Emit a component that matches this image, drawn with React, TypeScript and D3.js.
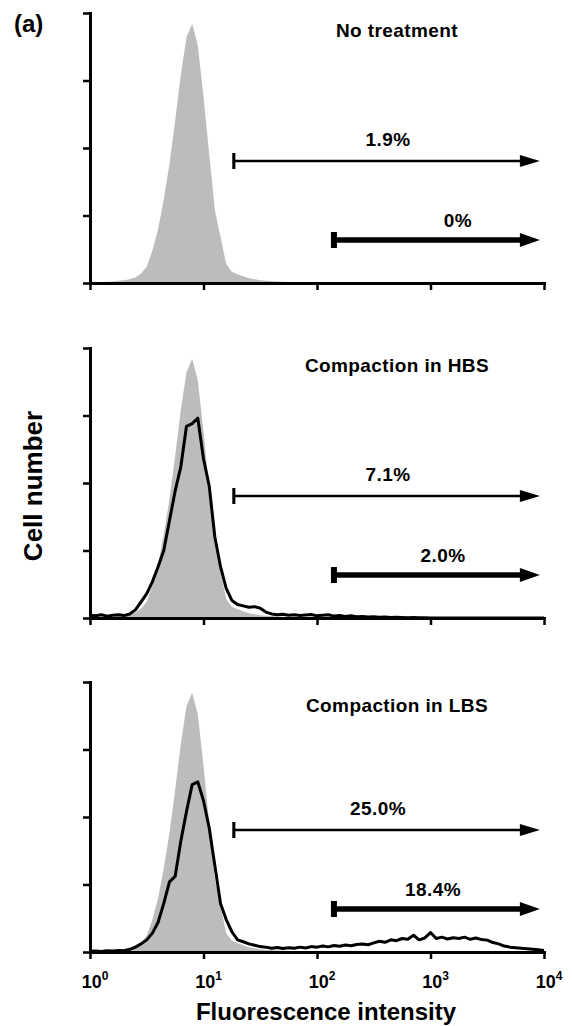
import * as d3 from 'd3';
import React, { useRef, useEffect } from 'react';

// channel positions, in decades of fluorescence (10^0 .. 10^4)
const logSteps = d3.range(0, 81).map((i) => i * 0.05);

// control histogram (grey fill), fraction of axis height
const control = [
  0.000, 0.003, 0.004, 0.005, 0.006, 0.008, 0.010, 0.014, 0.020, 0.035,
  0.060, 0.120, 0.200, 0.310, 0.440, 0.600, 0.770, 0.910, 0.960, 0.880,
  0.690, 0.480, 0.270, 0.170, 0.070, 0.042, 0.032, 0.025, 0.018, 0.014,
  0.010, 0.008, 0.007, 0.006, 0.005, 0.004, 0.004, 0.003, 0.003, 0.002,
  0.002, 0.002, 0.001, 0.002, 0.001, 0.001, 0.001, 0.001, 0.001, 0.001,
  0, 0, 0, 0, 0, 0, 0, 0, 0, 0,
  0, 0, 0, 0, 0, 0, 0, 0, 0, 0,
  0, 0, 0, 0, 0, 0, 0, 0, 0, 0,
  0,
];

// compaction in HBS (black outline)
const hbs = [
  0.010, 0.008, 0.012, 0.007, 0.010, 0.012, 0.009, 0.015, 0.030, 0.060,
  0.090, 0.135, 0.190, 0.250, 0.360, 0.470, 0.560, 0.710, 0.720, 0.740,
  0.590, 0.490, 0.300, 0.190, 0.110, 0.065, 0.050, 0.045, 0.040, 0.042,
  0.036, 0.022, 0.015, 0.012, 0.014, 0.010, 0.012, 0.009, 0.011, 0.013,
  0.008, 0.010, 0.012, 0.007, 0.009, 0.006, 0.008, 0.005, 0.006, 0.004,
  0.005, 0.003, 0.004, 0.002, 0.003, 0.002, 0.001, 0.002, 0.001, 0.001,
  0, 0, 0, 0, 0, 0, 0, 0, 0, 0,
  0, 0, 0, 0, 0, 0, 0, 0, 0, 0,
  0,
];

// compaction in LBS (black outline)
const lbs = [
  0.003, 0.004, 0.002, 0.005, 0.004, 0.006, 0.005, 0.010, 0.018, 0.030,
  0.045, 0.070, 0.110, 0.180, 0.260, 0.280, 0.410, 0.520, 0.620, 0.630,
  0.560, 0.460, 0.320, 0.180, 0.120, 0.075, 0.045, 0.038, 0.030, 0.025,
  0.020, 0.018, 0.014, 0.017, 0.013, 0.016, 0.014, 0.018, 0.015, 0.020,
  0.018, 0.022, 0.019, 0.024, 0.021, 0.026, 0.023, 0.028, 0.030, 0.027,
  0.034, 0.040, 0.036, 0.045, 0.042, 0.050, 0.047, 0.062, 0.045, 0.052,
  0.072, 0.050, 0.055, 0.048, 0.053, 0.050, 0.055, 0.047, 0.052, 0.046,
  0.044, 0.035, 0.030, 0.022, 0.018, 0.016, 0.014, 0.012, 0.010, 0.008,
  0.006,
];

const panelTitles = ['No treatment', 'Compaction in HBS', 'Compaction in LBS'];
const overlays = [null, hbs, lbs];
const lowGateLabels = ['1.9%', '7.1%', '25.0%'];
const highGateLabels = ['0%', '2.0%', '18.4%'];
const lowGate = [18.5, 9200];
const highGate = [141, 9200];
const xTicks = [1, 10, 100, 1000, 10000];
const xTickExp = ['0', '1', '2', '3', '4'];
const yTicks = [0, 0.25, 0.5, 0.75, 1];

// layout
const panelTops = [13, 348, 682];
const panelH = 270;
const titleDy = [24, 24, 30];
const lowLabelX = [388, 388, 378];
const highLabelX = [458, 443, 433];
const FONT = "'Liberation Sans', Arial, Helvetica, sans-serif";

const App = () => {
  const ref = useRef<SVGSVGElement>(null);

  useEffect(() => {
    const svg = d3.select(ref.current);
    svg.selectAll('*').remove();

    const x = d3.scaleLog().domain([1, 1e4]).range([90, 544]);

    const drawGate = (g: any, y0: number, gate: number[], w: number, headLen: number, headHalf: number) => {
      const xs = x(gate[0]);
      const xe = x(gate[1]);
      g.append('line')
        .attr('x1', xs).attr('x2', xe - headLen + 2)
        .attr('y1', y0).attr('y2', y0)
        .attr('stroke', '#000').attr('stroke-width', w);
      g.append('line')
        .attr('x1', xs).attr('x2', xs)
        .attr('y1', y0 - 8).attr('y2', y0 + 8)
        .attr('stroke', '#000').attr('stroke-width', w + 0.5);
      g.append('path')
        .attr('d', `M${xe},${y0} L${xe - headLen},${y0 - headHalf} L${xe - headLen},${y0 + headHalf} Z`)
        .attr('fill', '#000');
    };

    panelTitles.forEach((title, i) => {
      const top = panelTops[i];
      const y = d3.scaleLinear().domain([0, 1]).range([top + panelH, top]);
      const g = svg.append('g');

      // grey control histogram
      g.append('path')
        .datum(control)
        .attr('fill', '#bcbcbc')
        .attr('d', d3.area<number>()
          .x((d, j) => x(Math.pow(10, logSteps[j])))
          .y0(y(0))
          .y1((d) => y(d)));

      // treated sample outline
      const series = overlays[i];
      if (series) {
        g.append('path')
          .datum(series)
          .attr('fill', 'none')
          .attr('stroke', '#000')
          .attr('stroke-width', 3)
          .attr('stroke-linejoin', 'round')
          .attr('d', d3.line<number>()
            .x((d, j) => x(Math.pow(10, logSteps[j])))
            .y((d) => y(d)));
      }

      // x axis
      const xa = g.append('g')
        .attr('transform', `translate(0,${y(0)})`)
        .call(d3.axisBottom(x).tickValues(xTicks).tickSize(7).tickSizeOuter(0).tickFormat(() => ''));
      xa.select('.domain').attr('stroke-width', 3).attr('stroke-linecap', 'square');
      xa.selectAll('.tick line').attr('stroke-width', 2.5);

      // y axis
      const ya = g.append('g')
        .attr('transform', `translate(${x(1)},0)`)
        .call(d3.axisLeft(y).tickValues(yTicks).tickSize(7).tickSizeOuter(0).tickFormat(() => ''));
      ya.select('.domain').attr('stroke-width', 3).attr('stroke-linecap', 'square');
      ya.selectAll('.tick line').attr('stroke-width', 2.5);

      // title
      g.append('text')
        .attr('x', 397).attr('y', top + titleDy[i])
        .attr('text-anchor', 'middle')
        .style('font-family', FONT).style('font-weight', 'bold')
        .style('font-size', '19px').style('letter-spacing', '0.4px')
        .text(title);

      // gates
      drawGate(g, top + 148, lowGate, 2.6, 20, 6);
      drawGate(g, top + 227, highGate, 5.5, 20, 7);

      g.append('text')
        .attr('x', lowLabelX[i]).attr('y', top + 133)
        .attr('text-anchor', 'middle')
        .style('font-family', FONT).style('font-weight', 'bold')
        .style('font-size', '19px').style('letter-spacing', '0.4px')
        .text(lowGateLabels[i]);
      g.append('text')
        .attr('x', highLabelX[i]).attr('y', top + 214)
        .attr('text-anchor', 'middle')
        .style('font-family', FONT).style('font-weight', 'bold')
        .style('font-size', '19px').style('letter-spacing', '0.4px')
        .text(highGateLabels[i]);
    });

    // tick labels under the last panel
    const base = panelTops[2] + panelH;
    xTicks.forEach((v, i) => {
      const t = svg.append('text')
        .attr('x', x(v) + 5).attr('y', base + 36)
        .attr('text-anchor', 'middle')
        .style('font-family', FONT).style('font-weight', 'bold')
        .style('font-size', '18px');
      t.append('tspan').text('10');
      t.append('tspan').attr('dy', -8).style('font-size', '12px').text(xTickExp[i]);
    });

    svg.append('text')
      .attr('x', 326).attr('y', base + 68)
      .attr('text-anchor', 'middle')
      .style('font-family', FONT).style('font-weight', 'bold')
      .style('font-size', '24px')
      .text('Fluorescence intensity');

    svg.append('text')
      .attr('transform', `translate(42,486) rotate(-90)`)
      .attr('text-anchor', 'middle')
      .style('font-family', FONT).style('font-weight', 'bold')
      .style('font-size', '26px')
      .text('Cell number');

    svg.append('text')
      .attr('x', 14).attr('y', 32)
      .style('font-family', FONT).style('font-weight', 'bold')
      .style('font-size', '24px')
      .text('(a)');
  }, []);

  return (
    <svg
      ref={ref}
      width={572}
      height={1026}
      style={{ position: 'absolute', left: 0, top: 0, background: '#fff' }}
    />
  );
};

export default App;
